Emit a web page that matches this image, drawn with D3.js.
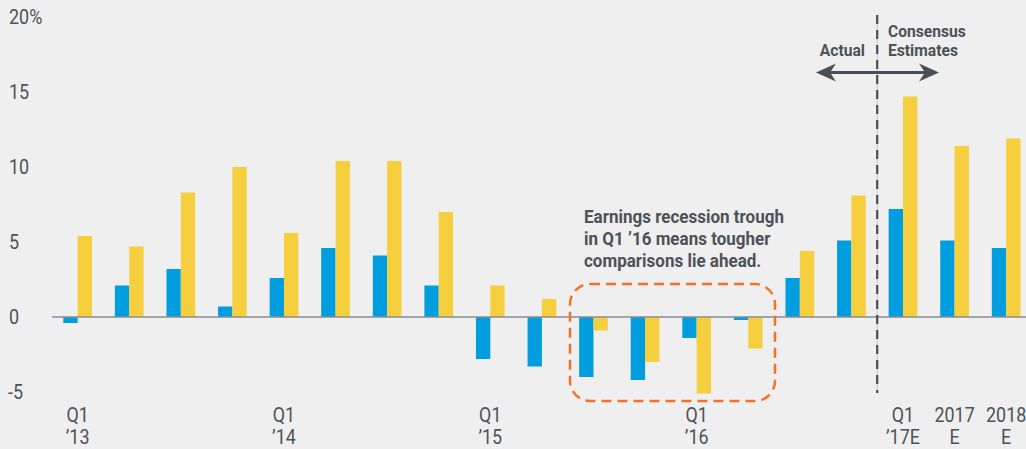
<!DOCTYPE html>
<html><head><meta charset="utf-8">
<script src="https://cdn.jsdelivr.net/npm/d3@7"></script>
<style>
html,body{margin:0;padding:0;background:#efefef;}
svg{display:block;}
text{font-family:Roboto,"Noto Sans",sans-serif;}
</style></head>
<body><svg id="c" width="1026" height="449"></svg>
<script>
const categories = ["Q1 '13","Q2 '13","Q3 '13","Q4 '13","Q1 '14","Q2 '14","Q3 '14","Q4 '14","Q1 '15","Q2 '15","Q3 '15","Q4 '15","Q1 '16","Q2 '16","Q3 '16","Q4 '16","Q1 '17E","2017E","2018E"];
const blueValues   = [-0.4, 2.1, 3.2, 0.7, 2.6, 4.6, 4.1, 2.1, -2.8, -3.3, -4.0, -4.2, -1.4, -0.2, 2.6, 5.1, 7.2, 5.1, 4.6];
const yellowValues = [5.4, 4.7, 8.3, 10.0, 5.6, 10.4, 10.4, 7.0, 2.1, 1.2, -0.9, -3.0, -5.1, -2.1, 4.4, 8.1, 14.7, 11.4, 11.9];
const yTicks = [-5, 0, 5, 10, 15, 20];
const xLabels = {"Q1 '13":["Q1","\u201913"],"Q1 '14":["Q1","\u201914"],"Q1 '15":["Q1","\u201915"],"Q1 '16":["Q1","\u201916"],"Q1 '17E":["Q1","\u201917E"],"2017E":["2017","E"],"2018E":["2018","E"]};
const annotation = ["Earnings recession trough","in Q1 \u201916 means tougher","comparisons lie ahead."];

const svg = d3.select("#c");
const textCol = "#4d5258";
const K = 0.92; // condensed look

function ctext(parent, x, yy, str, size, weight, anchor, k) {
  return parent.append("text")
    .attr("transform", `translate(${x},${yy}) scale(${k || K},1)`)
    .attr("dy", "0.36em").attr("font-size", size).attr("font-weight", weight || "normal")
    .attr("text-anchor", anchor || "start").attr("fill", textCol).text(str);
}

const y = d3.scaleLinear().domain([-5, 20]).range([392, 17]);
const x = d3.scaleBand().domain(categories).range([63.3, 1020.5]).paddingInner(0.444).paddingOuter(0);
const xs = d3.scaleBand().domain(["b","y"]).range([0, x.bandwidth()]);

// y tick labels
const yl = svg.append("g");
yTicks.forEach(d => ctext(yl, d === -5 ? 8 : 9, y(d), d === 20 ? "20%" : String(d), 19.5, "normal", "start"));

// bars
const g = svg.append("g");
categories.forEach((c, i) => {
  [["b", blueValues[i], "#009ddf"], ["y", yellowValues[i], "#f6cf3e"]].forEach(([k, v, col]) => {
    g.append("rect").attr("x", x(c) + xs(k)).attr("width", xs.bandwidth())
      .attr("y", y(Math.max(0, v))).attr("height", Math.abs(y(v) - y(0)))
      .attr("fill", col);
  });
});

// zero line
svg.append("line").attr("x1", 52).attr("x2", 1026).attr("y1", y(0)).attr("y2", y(0))
  .attr("stroke", "#8a8d90").attr("stroke-width", 1.5);

// x labels
const xl = svg.append("g");
categories.forEach(c => {
  if (!xLabels[c]) return;
  const cx = x(c) + x.bandwidth() / 2;
  xLabels[c].forEach((t, j) => ctext(xl, cx, 415 + j * 22, t, 19.5, "normal", "middle"));
});

// divider between actual and estimates
const divX = (x(categories[15]) + x.bandwidth() + x(categories[16])) / 2;
svg.append("line").attr("x1", divX).attr("x2", divX).attr("y1", 15).attr("y2", 393)
  .attr("stroke", "#c4c6c8").attr("stroke-width", 1);
svg.append("line").attr("x1", divX).attr("x2", divX).attr("y1", 15).attr("y2", 393)
  .attr("stroke", "#4a4f55").attr("stroke-width", 2.2).attr("stroke-dasharray", "9,6");

// arrow
const ay = 72.5;
svg.append("line").attr("x1", 822).attr("x2", 933).attr("y1", ay).attr("y2", ay)
  .attr("stroke", "#4a4f55").attr("stroke-width", 3);
svg.append("path").attr("d", `M816,${ay} L836,${ay-9} L830,${ay} L836,${ay+9} Z`).attr("fill", "#4a4f55");
svg.append("path").attr("d", `M939,${ay} L919,${ay-9} L925,${ay} L919,${ay+9} Z`).attr("fill", "#4a4f55");

const tg = svg.append("g");
ctext(tg, 865, 50, "Actual", 17, "bold", "end");
["Consensus", "Estimates"].forEach((t, j) => ctext(tg, 888, 30.5 + j * 19.5, t, 17, "bold", "start"));

// annotation
annotation.forEach((t, j) => ctext(tg, 584, 216.5 + j * 22, t, 18.5, "bold", "start"));
svg.append("rect").attr("x", 570).attr("y", 284).attr("width", 205).attr("height", 117)
  .attr("rx", 20).attr("ry", 20).attr("fill", "none").attr("stroke", "#f47321")
  .attr("stroke-width", 2.5).attr("stroke-dasharray", "10,6");
</script></body></html>
